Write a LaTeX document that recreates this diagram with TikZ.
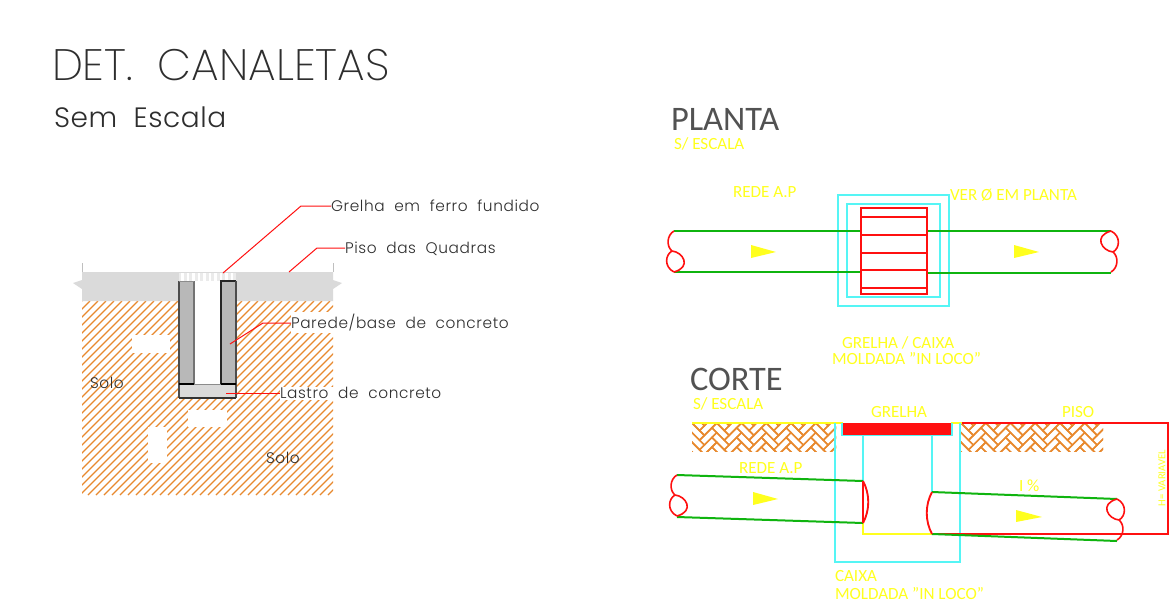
\documentclass[tikz,border=0pt]{standalone}
\usepackage{fontspec}
\setmainfont{Carlito}
\newfontfamily\cadfont{Poppins}[UprightFont=* Light]
\newfontfamily\cadlabf{Poppins}[UprightFont=* Light,LetterSpace=4]
\newfontfamily\cadsub{Poppins}[UprightFont=* Light,LetterSpace=2]
\newfontfamily\cadthin{Poppins}[UprightFont=* ExtraLight]
\definecolor{ye}{HTML}{FFFF1E}
\definecolor{cy}{HTML}{55F5F5}
\definecolor{gr}{HTML}{0FB40F}
\definecolor{re}{HTML}{FF1010}
\definecolor{ora}{HTML}{E8892E}
\definecolor{slab}{HTML}{DADADA}
\definecolor{wall}{HTML}{B8B8B8}
\definecolor{cadtxt}{HTML}{2E2E2E}
\tikzset{
  x=.75pt,y=-.75pt,
  txt/.style={inner sep=0pt,outer sep=0pt},
  cadlab/.style={txt,anchor=west,text height=8pt,text depth=0pt,text=cadtxt,font=\cadlabf\fontsize{11.5}{13}\selectfont},
  yl/.style={txt,anchor=base west,text=ye,font=\fontsize{12.8}{14}\selectfont},
  hd/.style={txt,anchor=base west,text=black!68,font=\fontsize{25.8}{28}\selectfont},
  leader/.style={re,line width=.75pt},
  pipe/.style={gr,line width=1.5pt},
  red/.style={re,line width=1.4pt},
  cyan line/.style={cy,line width=1pt},
  yline/.style={ye,line width=1.4pt},
  hatch/.style={ora,line width=.9pt},
  flow/.style={fill=ye,draw=none},
  brk/.pic={\draw[red,line width=1.2pt] (0,0) .. controls (-7,4) and (-8,15) .. (-2,20)
       .. controls (9,21) and (18,36) .. (0,41);
       \draw[red,line width=1.2pt] (-2,20) .. controls (-9,24) and (-10,36) .. (0,41);},
}
\newcommand{\herring}[4]{%
  \begin{scope}
    \clip (#1,#2) rectangle (#3,#4);
    \begin{scope}[shift={(#1,#2)},rotate=-45]
      \foreach \i in {-3,...,9}{
        \foreach \j in {-8,...,8}{
          \pgfmathsetmacro{\px}{6.8*\j+17.5*\i}
          \pgfmathsetmacro{\py}{6.8*\j-17.5*\i}
          \draw[ora,line width=1.1pt] (\px,\py) rectangle ++(17.5,6.8);
          \draw[ora,line width=1.1pt] (\px,\py+6.8) rectangle ++(6.8,17.5);
        }
      }
    \end{scope}
  \end{scope}
}
\begin{document}
\begin{tikzpicture}
\path[use as bounding box,fill=white] (0,0) rectangle (1170,604);

% ---------- titles
\node[txt,anchor=base west,text=cadtxt,font=\cadthin\fontsize{33}{36}\selectfont] (title) at (52,80) {DET.\ \ CANALETAS};
\node[txt,anchor=base west,text=cadtxt,font=\cadsub\fontsize{21}{24}\selectfont] (sub) at (54,127) {Sem\ \ Escala};

% ---------- soil hatch
\begin{scope}
  \clip (82,301) rectangle (333,495);
  \foreach \c in {383,391,...,830}{
    \draw[hatch] (\c-301,301) -- (\c-495,495);
  }
\end{scope}
\fill[white] (132,335) rectangle (170,353);
\fill[white] (188,410) rectangle (227,427);
\fill[white] (148,427) rectangle (167,463);
\fill[white] (291,312) rectangle (334,333);
\fill[white] (280,387) rectangle (334,400);

% ---------- slab with break marks
\fill[slab] (82,272) -- (333,272) -- (333,280) -- (342,283) -- (333,289) -- (333,301)
  -- (82,301) -- (82,289) -- (73,283) -- (82,280) -- cycle;
\draw[black!25,line width=.5pt] (82,263) -- (82,272) (333,263) -- (333,272);

% ---------- grate
\fill[black!8] (179,273) rectangle (236,281);
\foreach \g in {181,186.5,...,235}{
  \fill[white] (\g,273) rectangle +(2.5,8);
}
% ---------- walls
\fill[white] (194,281) rectangle (221,384);
\fill[wall] (179,281) rectangle (194,384);
\fill[wall] (221,281) rectangle (236,384);
\fill[slab] (179,384) rectangle (236,398);
\draw[black!70,line width=.8pt] (179,281) -- (179,398);
\draw[black!55,line width=.8pt] (194,281) -- (194,384);
\draw[black!85,line width=.8pt] (221,384) -- (221,281) -- (236,281);
\draw[black!70,line width=.8pt] (236,281) -- (236,398);
\draw[black!45,line width=.6pt] (179,281) -- (194,281) (194,384) -- (221,384);
\draw[black,line width=.9pt] (179,384) -- (194,384) (221,384) -- (236,384);
\draw[black!80,line width=.8pt] (179,398) -- (236,398);

% ---------- left labels and leaders
\node[cadlab] (lgrelha) at (331,206) {Grelha\ \ em\ \ ferro\ \ fundido};
\node[cadlab] (lpiso) at (345,248) {Piso\ \ das\ \ Quadras};
\node[cadlab] (lparede) at (291,323) {Parede/base\ \ de\ \ concreto};
\node[cadlab] (llastro) at (280,393) {Lastro\ \ de\ \ concreto};
\node[cadlab,anchor=base west] (solo1) at (90,388) {Solo};
\node[cadlab,anchor=base west] (solo2) at (266,463) {Solo};
\coordinate (tg) at (223,273); \coordinate (bg) at (301,206);
\coordinate (tp) at (289,272); \coordinate (bp) at (317,248);
\coordinate (tw) at (230,344); \coordinate (bw) at (263,323);
\coordinate (tl) at (226,393);
\draw[leader] (tg) -- (bg) -- (lgrelha.west);
\draw[leader] (tp) -- (bp) -- (lpiso.west);
\draw[leader] (tw) -- (bw) -- (lparede.west);
\draw[leader] (tl) -- (llastro.west);

% ---------- PLANTA
\node[hd] (planta) at (671,130) {PLANTA};
\node[yl] (pesc) at (674,149) {S/ ESCALA};
\node[yl] (prede) at (733,197) {REDE A.P};
\node[yl] (pver) at (950,200) {VER Ø EM PLANTA};
\draw[cyan line] (838,195) rectangle (949,306);
\draw[cyan line] (847,204) rectangle (940,297);
\draw[pipe] (674,231) -- (861,231) (674,272) -- (861,272);
\draw[pipe] (927,231) -- (1111,231) (927,273) -- (1111,273);
\draw[red] (861,208) rectangle (927,294);
\foreach \l in {217,235,253,270,288}{ \draw[red] (861,\l) -- (927,\l); }
\pic at (674,231) {brk};
\pic[rotate=180] at (1111,272) {brk};
\fill[flow] (751,245) -- (776,252) -- (751,258) -- cycle;
\fill[flow] (1014,245) -- (1039,252) -- (1014,258) -- cycle;
\node[yl] (c1) at (842,348) {GRELHA / CAIXA};
\node[yl] (c2) at (832,364) {MOLDADA "IN LOCO"};

% ---------- CORTE
\node[hd] (corte) at (690,390) {CORTE};
\node[yl] (cesc) at (693,409) {S/ ESCALA};
\node[yl] (cgr) at (871,417) {GRELHA};
\node[yl] (cpi) at (1062,417) {PISO};
\node[yl] (cre) at (739,473) {REDE A.P};
\node[yl] (ci) at (1019,491) {I \%};
\node[yl] (cc1) at (835,581) {CAIXA};
\node[yl] (cc2) at (835,599) {MOLDADA "IN LOCO"};
\node[txt,text=ye,rotate=90,font=\fontsize{8}{9}\selectfont] (hv) at (1162,478) {H= VARIAVEL};

\herring{692}{423}{836}{451}
\herring{961}{423}{1103}{451}
\draw[yline] (692,423) -- (843,423) (951,423) -- (962,423);
\draw[cyan line] (835,423) -- (835,562) -- (960,562) -- (960,423);
\draw[cyan line] (842,423) -- (842,435) -- (952,435) -- (952,423);
\draw[cyan line] (863,435) -- (863,481) (932,435) -- (932,492);
\draw[yline] (863,523) -- (863,534) -- (932,534);
\fill[re] (843,423) rectangle (951,435);
\draw[red] (962,423) -- (1168,423) -- (1168,534) -- (932,534);
\draw[pipe] (677,475) -- (863,481) (677,517) -- (863,523);
\draw[pipe] (932,492) -- (1117,499) (932,534) -- (1117,541);
\draw[red] (863,481) -- (863,523);
\draw[red] (863,481) .. controls (870,494) and (870,510) .. (863,523);
\draw[red] (932,492) .. controls (925,505) and (925,521) .. (932,534);
\pic at (677,475) {brk};
\pic[rotate=180] at (1117,540) {brk};
\fill[flow] (753,492) -- (778,499) -- (753,505) -- cycle;
\fill[flow] (1016,510) -- (1042,517) -- (1016,522) -- cycle;
\end{tikzpicture}
\end{document}
